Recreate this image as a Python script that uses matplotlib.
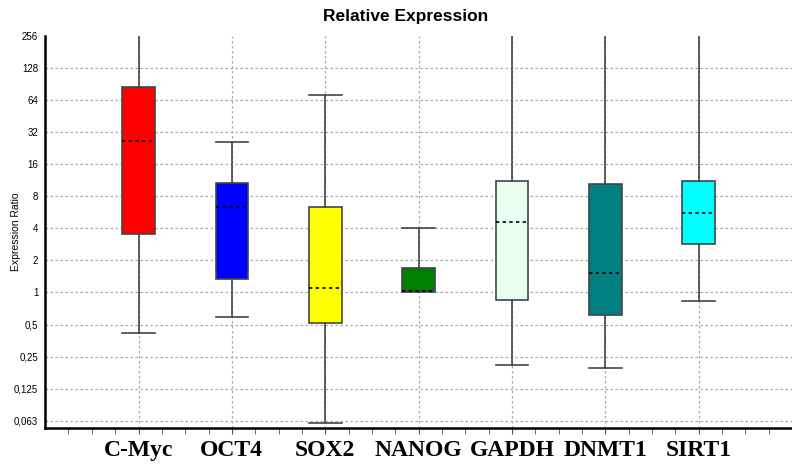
"""Relative Expression box plot (log2 y axis, REST-style)."""
import matplotlib
matplotlib.use("Agg")
import matplotlib.pyplot as plt
from matplotlib.ticker import FixedLocator, NullFormatter

GENES = ["C-Myc", "OCT4", "SOX2", "NANOG", "GAPDH", "DNMT1", "SIRT1"]
COLORS = ["#ff0000", "#0000ff", "#ffff00", "#008000", "#e8fff0", "#008080", "#00ffff"]
Q1 = [3.57, 1.33, 0.515, 1.03, 0.85, 0.61, 2.82]
MED = [26.6, 6.3, 1.11, 1.03, 4.6, 1.52, 5.63]
Q3 = [84.0, 10.7, 6.4, 1.71, 11.2, 10.5, 11.2]
WLO = [0.42, 0.59, 0.059, 1.0, 0.21, 0.195, 0.84]
WHI = [400, 25.6, 72.0, 4.05, 400, 400, 400]   # 400 = runs off the top

YTICKS = [0.0625, 0.125, 0.25, 0.5, 1, 2, 4, 8, 16, 32, 64, 128, 256]
YLABELS = ["0,063", "0,125", "0,25", "0,5", "1", "2", "4", "8", "16", "32", "64", "128", "256"]

plt.rcParams["font.family"] = ["Liberation Sans", "DejaVu Sans"]

fig = plt.figure(figsize=(7.92, 4.66), dpi=100)
ax = fig.add_axes([0.057, 0.082, 0.943, 0.841])

stats = [dict(label=g, q1=a, med=m, q3=b, whislo=lo, whishi=hi, fliers=[])
         for g, a, m, b, lo, hi in zip(GENES, Q1, MED, Q3, WLO, WHI)]
pos = list(range(1, len(GENES) + 1))
bp = ax.bxp(stats, positions=pos, widths=0.35, patch_artist=True, showfliers=False,
            boxprops=dict(edgecolor="#444444", linewidth=1.2),
            whiskerprops=dict(color="#444444", linewidth=1.2),
            capprops=dict(color="#444444", linewidth=1.2),
            medianprops=dict(color="black", linewidth=1.2, linestyle=(0, (2, 2))),
            capwidths=0.35, zorder=3)
for patch, c in zip(bp["boxes"], COLORS):
    patch.set_facecolor(c)

ax.set_yscale("log", base=2)
ax.set_ylim(0.0537, 256)
ax.set_xlim(0, 8)
ax.yaxis.set_major_locator(FixedLocator(YTICKS))
ax.set_yticklabels(YLABELS, fontsize=7)
ax.yaxis.set_minor_formatter(NullFormatter())
ax.yaxis.set_minor_locator(FixedLocator([]))

ax.set_xticks(pos)
ax.set_xticklabels(GENES, fontsize=17, fontweight="bold", family="Liberation Serif")
ax.xaxis.set_minor_locator(FixedLocator([i * 0.25 for i in range(1, 32) if i % 4]))
ax.tick_params(axis="x", which="both", direction="out", length=4, color="#555555", pad=5)
ax.tick_params(axis="y", length=0, pad=5)

for y in YTICKS[:-1]:
    ax.axhline(y, color="#aaaaaa", linestyle=(0, (2, 2)), linewidth=0.9, zorder=1)
for x in pos:
    ax.axvline(x, color="#aaaaaa", linestyle=(0, (2, 2)), linewidth=0.9, zorder=1)

for s in ["top", "right"]:
    ax.spines[s].set_visible(False)
for s in ["left", "bottom"]:
    ax.spines[s].set_linewidth(1.8)
    ax.spines[s].set_color("black")

fig.text(16 / 792, 1 - 232 / 466, "Expression Ratio", rotation=90, ha="center", va="center",
         fontsize=7.5)
fig.text(406 / 792, 1 - 17 / 466, "Relative Expression", ha="center", va="center",
         fontsize=12.5, fontweight="bold")

fig.savefig("out.png", dpi=100)
